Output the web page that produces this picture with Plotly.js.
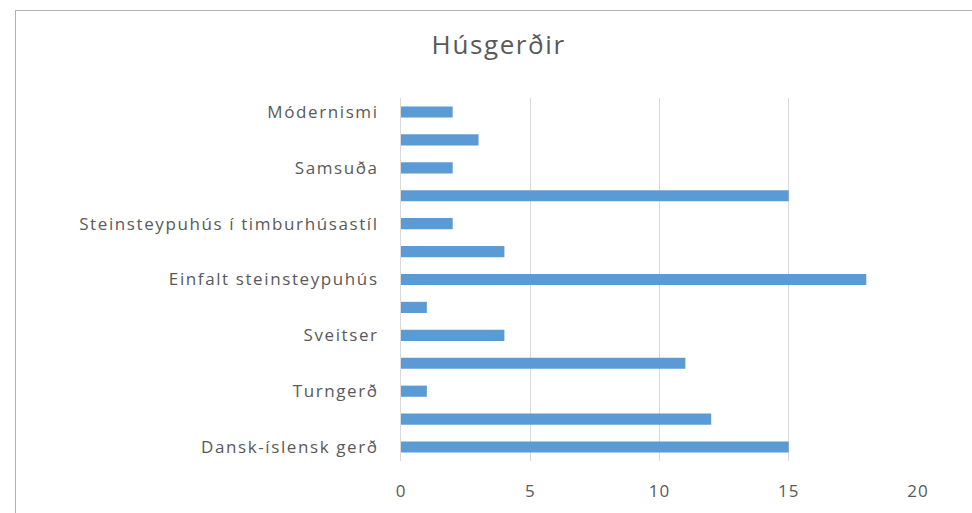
<!DOCTYPE html>
<html>
<head>
<meta charset="utf-8">
<script src="https://cdn.plot.ly/plotly-3.0.1.min.js"></script>
<style>
html,body{margin:0;padding:0;background:#fff;}
#frame{position:absolute;left:15px;top:10px;width:957px;height:503px;border-left:1px solid #b4b4b4;border-top:1px solid #b4b4b4;box-sizing:border-box;pointer-events:none;}
#chart{position:absolute;left:0;top:0;width:972px;height:513px;}
#chart .ytick text{letter-spacing:1.6px;}
#chart .xtick text{letter-spacing:1px;}
#chart .gtitle{letter-spacing:1.6px;}
</style>
</head>
<body>
<div id="chart"></div>
<div id="frame"></div>
<script>
// Categories from bottom to top (unlabelled rows in the original are blank)
const categories = [
  "Dansk-íslensk gerð", "", "Turngerð", "", "Sveitser", "",
  "Einfalt steinsteypuhús", "", "Steinsteypuhús í timburhúsastíl", "",
  "Samsuða", "", "Módernismi"
];
const values = [15, 12, 1, 11, 4, 1, 18, 4, 2, 15, 2, 3, 2];
const xTicks = [0, 5, 10, 15, 20];

const positions = categories.map((_, i) => i);

const trace = {
  type: 'bar',
  orientation: 'h',
  x: values,
  y: positions,
  marker: {color: '#5b9bd5'},
  hoverinfo: 'x'
};

const layout = {
  width: 972, height: 513,
  margin: {l: 401, r: 54, t: 98, b: 52},
  paper_bgcolor: '#ffffff',
  plot_bgcolor: '#ffffff',
  font: {family: 'Open Sans, Liberation Sans, sans-serif', color: '#595959', size: 13},
  title: {
    text: 'Húsgerðir',
    font: {size: 26, color: '#595959', family: 'Open Sans, Liberation Sans, sans-serif'},
    x: 0.513, xanchor: 'center', y: 0.912, yanchor: 'middle'
  },
  bargap: 0.6,
  showlegend: false,
  xaxis: {
    range: [0, 20],
    tickvals: xTicks,
    ticktext: xTicks.map(String),
    showgrid: true,
    gridcolor: '#d9d9d9',
    gridwidth: 1,
    zeroline: false,
    showline: false,
    ticks: '',
    ticklabelstandoff: 18,
    tickfont: {size: 17, color: '#595959'},
    fixedrange: true
  },
  yaxis: {
    range: [-0.5, 12.5],
    tickvals: positions,
    ticktext: categories,
    showgrid: false,
    zeroline: false,
    showline: true,
    linecolor: '#d9d9d9',
    linewidth: 1,
    ticks: '',
    ticklabelstandoff: 18,
    tickfont: {size: 17, color: '#595959'},
    fixedrange: true
  }
};

Plotly.newPlot('chart', [trace], layout, {displayModeBar: false, staticPlot: true});
</script>
</body>
</html>
